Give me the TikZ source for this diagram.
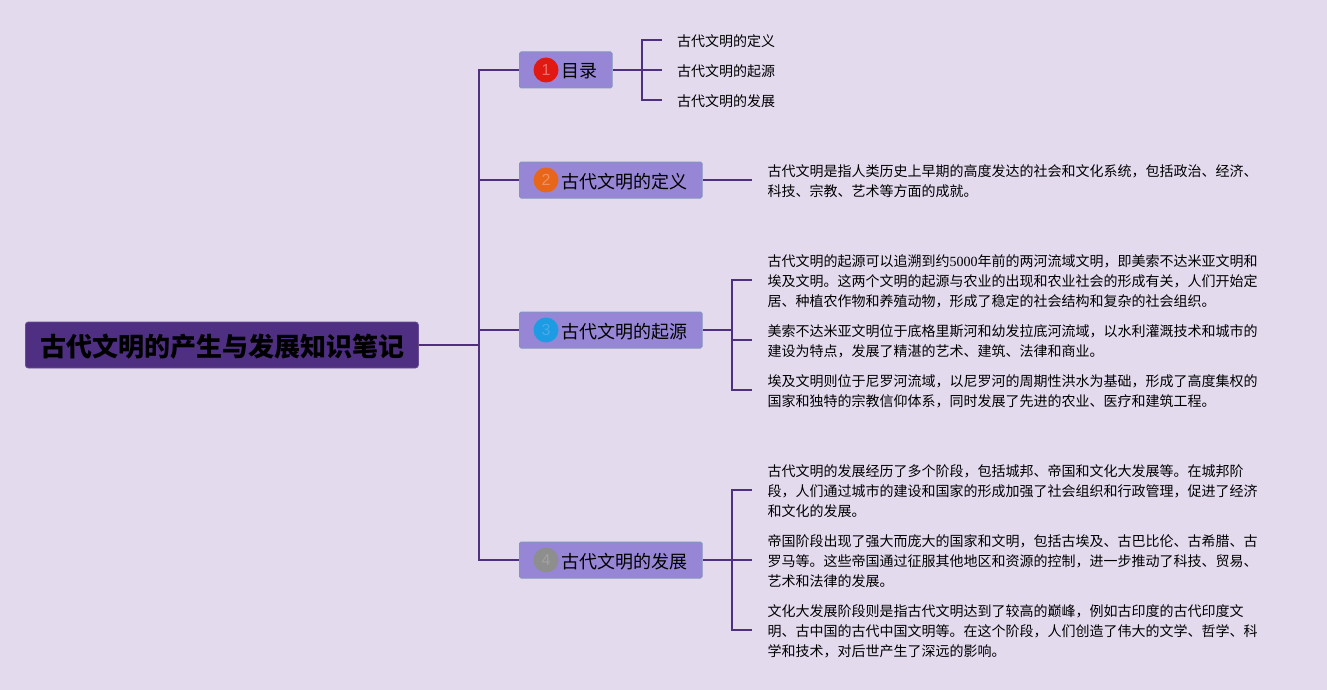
\documentclass[tikz,border=0pt]{standalone}
\usepackage{fontspec}
\setmainfont{Noto Sans CJK SC}
\newfontfamily\numfont{Liberation Serif}
\newfontfamily\digitfont{Liberation Sans}
\definecolor{bgc}{HTML}{E3DAEE}
\definecolor{linec}{HTML}{4F2F80}
\definecolor{rootc}{HTML}{4E2F82}
\definecolor{boxc}{HTML}{9786D6}
\definecolor{boxe}{HTML}{8296BC}
\definecolor{bad1}{HTML}{E01A12}
\definecolor{bad2}{HTML}{E8661A}
\definecolor{bad3}{HTML}{1E9CE3}
\definecolor{bad4}{HTML}{8E8E8E}
\definecolor{dig1}{HTML}{EC6F68}
\definecolor{dig2}{HTML}{EE9260}
\definecolor{dig3}{HTML}{4AAAE8}
\definecolor{dig4}{HTML}{A2A2A2}
\tikzset{
 conn/.style={draw=linec,line width=2pt},
 rootbox/.style={anchor=west,fill=rootc,draw=rootc!85!white,line width=.8pt,rounded corners=3pt,inner xsep=0pt,inner ysep=0pt,minimum height=46pt,minimum width=393pt,font=\fontsize{26}{30}\selectfont\bfseries,text=black},
 branchbox/.style={anchor=west,fill=boxc,draw=boxe,line width=1pt,rounded corners=1.5pt,inner xsep=0pt,inner ysep=0pt,minimum height=36pt,font=\fontsize{18}{22}\selectfont,text=black},
 badge/.style={circle,minimum size=25pt,inner sep=0pt,font=\digitfont\fontsize{16}{16}\selectfont},
 leaf/.style={anchor=west,inner ysep=0pt,align=left,font=\fontsize{14}{20}\selectfont,text=black,inner xsep=15.5pt,yshift=-1pt},
 shortleaf/.style={leaf,inner xsep=15pt},
}
\newcommand{\pad}{\hspace*{42pt}}
\newcommand{\lowered}[2]{\raisebox{-#1}[\height][\depth]{#2}}
\begin{document}
\begin{tikzpicture}[x=1pt,y=-1pt]
\useasboundingbox (0,0) rectangle (1327,690);
\fill[bgc] (0,0) rectangle (1327,690);
\node[rootbox] (root) at (25,345) {\lowered{2pt}{\hspace*{2pt}古代文明的产生与发展知识笔记}};
\coordinate (trunk) at (479,345);
\node[branchbox] (b1) at (519,70) {\lowered{1.5pt}{\pad 目录\hspace*{14.5pt}}};
\node[branchbox] (b2) at (519,180) {\lowered{1.5pt}{\pad 古代文明的定义\hspace*{14.5pt}}};
\node[branchbox] (b3) at (519,330) {\lowered{1.5pt}{\pad 古代文明的起源\hspace*{14.5pt}}};
\node[branchbox] (b4) at (519,560) {\lowered{1.5pt}{\pad 古代文明的发展\hspace*{14.5pt}}};
\node[badge,fill=bad1,text=dig1] (c1) at (546,70) {1};
\node[badge,fill=bad2,text=dig2] (c2) at (546,180) {2};
\node[badge,fill=bad3,text=dig3] (c3) at (546,330) {3};
\node[badge,fill=bad4,text=dig4] (c4) at (546,560) {4};
\node[shortleaf] (l11) at (662,40) {古代文明的定义};
\node[shortleaf] (l12) at (662,70) {古代文明的起源};
\node[shortleaf] (l13) at (662,100) {古代文明的发展};
\node[leaf] (l21) at (752,180) {古代文明是指人类历史上早期的高度发达的社会和文化系统，包括政治、经济、\\科技、宗教、艺术等方面的成就。};
\node[leaf] (l31) at (752,280) {古代文明的起源可以追溯到约{\numfont 5000}年前的两河流域文明，即美索不达米亚文明和\\埃及文明。这两个文明的起源与农业的出现和农业社会的形成有关，人们开始定\\居、种植农作物和养殖动物，形成了稳定的社会结构和复杂的社会组织。};
\node[leaf] (l32) at (752,340) {美索不达米亚文明位于底格里斯河和幼发拉底河流域，以水利灌溉技术和城市的\\建设为特点，发展了精湛的艺术、建筑、法律和商业。};
\node[leaf] (l33) at (752,390) {埃及文明则位于尼罗河流域，以尼罗河的周期性洪水为基础，形成了高度集权的\\国家和独特的宗教信仰体系，同时发展了先进的农业、医疗和建筑工程。};
\node[leaf] (l41) at (752,490) {古代文明的发展经历了多个阶段，包括城邦、帝国和文化大发展等。在城邦阶\\段，人们通过城市的建设和国家的形成加强了社会组织和行政管理，促进了经济\\和文化的发展。};
\node[leaf] (l42) at (752,560) {帝国阶段出现了强大而庞大的国家和文明，包括古埃及、古巴比伦、古希腊、古\\罗马等。这些帝国通过征服其他地区和资源的控制，进一步推动了科技、贸易、\\艺术和法律的发展。};
\node[leaf] (l43) at (752,630) {文化大发展阶段则是指古代文明达到了较高的巅峰，例如古印度的古代印度文\\明、古中国的古代中国文明等。在这个阶段，人们创造了伟大的文学、哲学、科\\学和技术，对后世产生了深远的影响。};
\coordinate (j1) at (642,70);
\coordinate (j3) at (732,330);
\coordinate (j4) at (732,560);
\draw[conn] (root.east) -- (trunk);
\draw[conn] (trunk) |- (b1.west);
\draw[conn] (trunk) |- (b2.west);
\draw[conn] (trunk) |- (b3.west);
\draw[conn] (trunk) |- (b4.west);
\draw[conn] (b1.east) -- (j1);
\draw[conn] (j1) |- ([yshift=1pt]l11.west);
\draw[conn] (j1) -- ([yshift=1pt]l12.west);
\draw[conn] (j1) |- ([yshift=1pt]l13.west);
\draw[conn] (b2.east) -- ([yshift=1pt]l21.west);
\draw[conn] (b3.east) -- (j3);
\draw[conn] (j3) |- ([yshift=1pt]l31.west);
\draw[conn] (j3) |- ([yshift=1pt]l32.west);
\draw[conn] (j3) |- ([yshift=1pt]l33.west);
\draw[conn] (b4.east) -- (j4);
\draw[conn] (j4) |- ([yshift=1pt]l41.west);
\draw[conn] (j4) -- ([yshift=1pt]l42.west);
\draw[conn] (j4) |- ([yshift=1pt]l43.west);
\end{tikzpicture}
\end{document}
